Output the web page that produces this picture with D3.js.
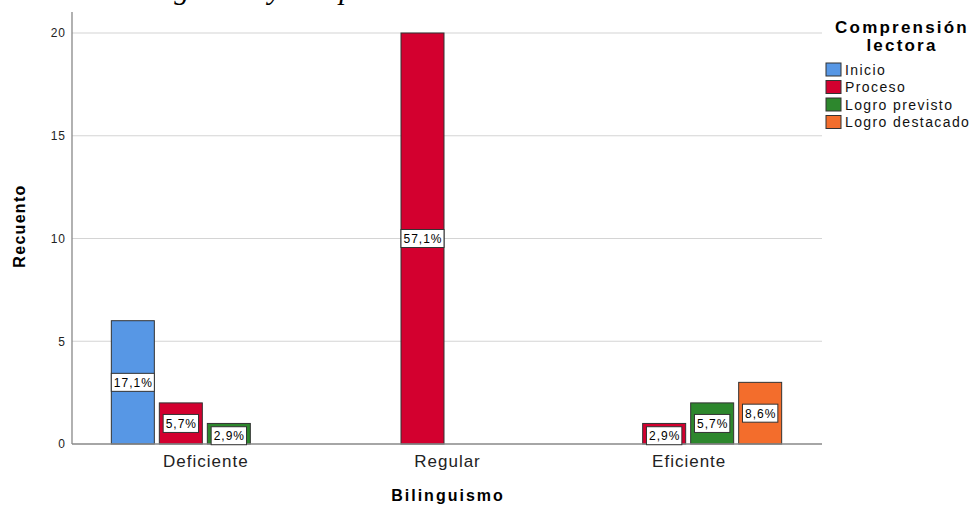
<!DOCTYPE html>
<html>
<head>
<meta charset="utf-8">
<script src="https://cdn.jsdelivr.net/npm/d3@7"></script>
<style>
  body { margin: 0; background: #fff; }
  text { font-family: "Liberation Sans", Arial, sans-serif; }
</style>
</head>
<body>
<div id="container"></div>
<script>
// data
const categories = ["Deficiente", "Regular", "Eficiente"];
const series = ["Inicio", "Proceso", "Logro previsto", "Logro destacado"];
const counts = {
  "Deficiente": [6, 2, 1, 0],
  "Regular":    [0, 20, 0, 0],
  "Eficiente":  [0, 1, 2, 3]
};
const pctLabels = {
  "Deficiente": ["17,1%", "5,7%", "2,9%", ""],
  "Regular":    ["", "57,1%", "", ""],
  "Eficiente":  ["", "2,9%", "5,7%", "8,6%"]
};
const colors = ["#5797e5", "#d3002f", "#2d872d", "#f36d2c"];
const yTicks = [0, 5, 10, 15, 20];

const width = 973, height = 506;
const plot = { left: 72, right: 822, top: 12, bottom: 444 };

const svg = d3.select("#container").append("svg")
  .attr("width", width).attr("height", height);

// cut off caption at the very top (only the descenders show)
svg.append("text")
  .attr("x", 116).attr("y", -1)
  .style("font-family", "'Liberation Serif', 'Times New Roman', serif")
  .style("font-style", "italic")
  .style("font-size", "30px")
  .attr("fill", "#000")
  .text("Bilingüismo y comprensión lectora");

const yScale = d3.scaleLinear().domain([0, 20]).range([plot.bottom, 33]);
const x0 = d3.scaleBand().domain(categories).range([84, 809]).padding(0);
const x1 = d3.scaleBand().domain(series).range([0, 187]).paddingInner(5 / 48);

// grid
svg.selectAll("line.grid")
  .data(yTicks.filter(d => d > 0))
  .join("line")
  .attr("class", "grid")
  .attr("x1", plot.left).attr("x2", plot.right)
  .attr("y1", d => yScale(d)).attr("y2", d => yScale(d))
  .attr("stroke", "#d4d4d4").attr("stroke-width", 1.2);

// y axis
const yAxis = d3.axisLeft(yScale).tickValues(yTicks).tickSize(0).tickPadding(6);
const yAxisGroup = svg.append("g")
  .attr("transform", `translate(${plot.left},0)`)
  .call(yAxis);
yAxisGroup.select(".domain").remove();
yAxisGroup.selectAll("text")
  .style("font-size", "12px").style("letter-spacing", "1px").attr("fill", "#222");
svg.append("line")
  .attr("x1", plot.left).attr("x2", plot.left)
  .attr("y1", plot.top).attr("y2", plot.bottom)
  .attr("stroke", "#888").attr("stroke-width", 1.3);

// bars
const rows = [];
categories.forEach(c => {
  series.forEach((s, i) => {
    if (counts[c][i] > 0) rows.push({ cat: c, ser: s, i: i, v: counts[c][i], lab: pctLabels[c][i] });
  });
});
const barX = d => x0(d.cat) + (x0.bandwidth() - 187) / 2 + x1(d.ser);

svg.selectAll("rect.bar")
  .data(rows)
  .join("rect")
  .attr("class", "bar")
  .attr("x", barX)
  .attr("y", d => yScale(d.v))
  .attr("width", x1.bandwidth())
  .attr("height", d => yScale(0) - yScale(d.v))
  .attr("fill", d => colors[d.i])
  .attr("stroke", "#333").attr("stroke-width", 1);

// x axis line
svg.append("line")
  .attr("x1", plot.left).attr("x2", plot.right)
  .attr("y1", plot.bottom).attr("y2", plot.bottom)
  .attr("stroke", "#888").attr("stroke-width", 1.3);

// category labels
const xAxis = d3.axisBottom(x0).tickSize(0).tickPadding(11);
const xAxisGroup = svg.append("g")
  .attr("transform", `translate(0,${plot.bottom})`)
  .call(xAxis);
xAxisGroup.select(".domain").remove();
xAxisGroup.selectAll("text")
  .attr("x", 1)
  .style("font-size", "17px").style("letter-spacing", "1px").attr("fill", "#222");

// percentage labels
const labels = svg.selectAll("g.lab")
  .data(rows)
  .join("g")
  .attr("class", "lab")
  .attr("transform", d => `translate(${barX(d) + x1.bandwidth() / 2},${(yScale(d.v) + yScale(0)) / 2 + (d.v === 1 ? 2 : 0)})`);
labels.append("text")
  .attr("text-anchor", "middle")
  .attr("x", 0.5)
  .attr("dy", "0.36em")
  .style("font-size", "12px").style("letter-spacing", "1px")
  .attr("fill", "#000")
  .text(d => d.lab);
labels.each(function () {
  const g = d3.select(this);
  const bb = g.select("text").node().getBBox();
  g.insert("rect", "text")
    .attr("x", bb.x - 2.5).attr("y", -9)
    .attr("width", bb.width + 4).attr("height", 18)
    .attr("fill", "#fff").attr("stroke", "#333").attr("stroke-width", 1);
});

// axis titles
svg.append("text")
  .attr("transform", `translate(25,226) rotate(-90)`)
  .attr("text-anchor", "middle")
  .style("font-size", "16px").style("font-weight", "bold").style("letter-spacing", "1.3px")
  .text("Recuento");
svg.append("text")
  .attr("x", 448).attr("y", 501)
  .attr("text-anchor", "middle")
  .style("font-size", "16px").style("font-weight", "bold").style("letter-spacing", "2px")
  .text("Bilinguismo");

// legend
const legend = svg.append("g");
legend.append("text")
  .attr("x", 902).attr("y", 33)
  .attr("text-anchor", "middle")
  .style("font-size", "17px").style("font-weight", "bold").style("letter-spacing", "2.2px")
  .text("Comprensión");
legend.append("text")
  .attr("x", 902).attr("y", 51)
  .attr("text-anchor", "middle")
  .style("font-size", "17px").style("font-weight", "bold").style("letter-spacing", "2.2px")
  .text("lectora");
const items = legend.selectAll("g.item")
  .data(series)
  .join("g")
  .attr("class", "item")
  .attr("transform", (d, i) => `translate(826,${63 + i * 17.5})`);
items.append("rect")
  .attr("width", 15).attr("height", 13)
  .attr("fill", (d, i) => colors[i])
  .attr("stroke", "#333").attr("stroke-width", 1);
items.append("text")
  .attr("x", 19).attr("y", 11.5)
  .style("font-size", "14px").style("letter-spacing", "1.4px").attr("fill", "#111")
  .text(d => d);
</script>
</body>
</html>
